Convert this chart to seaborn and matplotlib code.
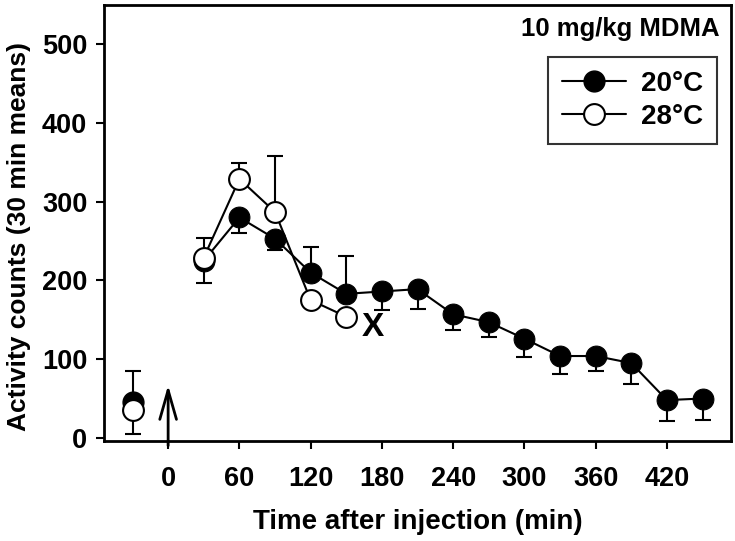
import numpy as np
import pandas as pd
import matplotlib
matplotlib.use("Agg")
import matplotlib.pyplot as plt
import seaborn as sns
from matplotlib.lines import Line2D

# =========================
# DATA
# =========================
time_20 = [-30, 30, 60, 90, 120, 150, 180, 210, 240, 270, 300, 330, 360, 390, 420, 450]
mean_20 = [45, 225, 280, 253, 210, 183, 186, 189, 157, 147, 126, 104, 104, 95, 48, 50]
err_lo_20 = [0, 0, 20, 14, 0, 0, 24, 25, 20, 19, 23, 23, 19, 26, 26, 27]
err_hi_20 = [40, 29, 0, 0, 33, 48, 0, 0, 0, 0, 0, 0, 0, 0, 0, 0]

time_28 = [-30, 30, 60, 90, 120, 150]
mean_28 = [36, 229, 329, 287, 175, 154]
err_lo_28 = [31, 32, 0, 0, 0, 0]
err_hi_28 = [0, 0, 20, 71, 0, 0]

x_ticks = [0, 60, 120, 180, 240, 300, 360, 420]
y_ticks = [0, 100, 200, 300, 400, 500]

df = pd.concat([
    pd.DataFrame({"time": time_20, "counts": mean_20, "temp": "20°C"}),
    pd.DataFrame({"time": time_28, "counts": mean_28, "temp": "28°C"}),
])

# =========================
# STYLE
# =========================
sns.set_style("ticks")
plt.rcParams['font.family'] = ['Liberation Sans', 'DejaVu Sans']
plt.rcParams['font.weight'] = 'bold'
for k in ['text.color', 'axes.labelcolor', 'xtick.color', 'ytick.color', 'axes.edgecolor']:
    plt.rcParams[k] = 'black'

fig = plt.figure(figsize=(7.35, 5.41), dpi=100)
ax = fig.add_axes([0.1415, 0.1848, 0.8531, 0.806])

# =========================
# ERROR BARS
# =========================
ax.errorbar(time_20, mean_20, yerr=[err_lo_20, err_hi_20], fmt='none',
            ecolor='black', elinewidth=1.5, capsize=5.5, capthick=1.5, zorder=2)
ax.errorbar(time_28, mean_28, yerr=[err_lo_28, err_hi_28], fmt='none',
            ecolor='black', elinewidth=1.5, capsize=5.5, capthick=1.5, zorder=2)

# =========================
# LINES
# =========================
d20 = df[df["temp"] == "20°C"]
d28 = df[df["temp"] == "28°C"]

sns.lineplot(data=d20[d20["time"] > 0], x="time", y="counts", ax=ax,
             color='black', lw=1.5, marker='o', markersize=15,
             markerfacecolor='black', markeredgecolor='black', zorder=3)
sns.lineplot(data=d28[d28["time"] > 0], x="time", y="counts", ax=ax,
             color='black', lw=1.5, marker='o', markersize=15,
             markerfacecolor='white', markeredgecolor='black',
             markeredgewidth=1.5, zorder=4)

# pre-injection points
ax.plot(time_20[:1], mean_20[:1], 'o', color='black', markersize=15, zorder=3)
ax.plot(time_28[:1], mean_28[:1], 'o', markerfacecolor='white',
        markeredgecolor='black', markeredgewidth=1.5, markersize=15, zorder=4)

# =========================
# ANNOTATIONS
# =========================
ax.annotate("", xy=(0, 67), xytext=(0, -10),
            arrowprops=dict(arrowstyle='->,head_length=1.4,head_width=0.4',
                            lw=2, color='black', mutation_scale=15,
                            shrinkA=0, shrinkB=0),
            annotation_clip=False)
ax.text(172, 140, "X", fontsize=24, fontweight='bold', ha='center', va='center')
ax.text(0.982, 0.945, "10 mg/kg MDMA", transform=ax.transAxes,
        fontsize=18.5, fontweight='bold', ha='right', va='center')

handles = [
    Line2D([], [], color='black', lw=1.5, marker='o', markersize=15,
           markerfacecolor='black'),
    Line2D([], [], color='black', lw=1.5, marker='o', markersize=15,
           markerfacecolor='white', markeredgewidth=1.5),
]
leg = ax.legend(handles, ["20°C", "28°C"], loc='upper right',
                bbox_to_anchor=(0.978, 0.881), frameon=True, fancybox=False,
                edgecolor='black', fontsize=20, handlelength=2.3,
                borderpad=0.5, labelspacing=0.25, handletextpad=0.55,
                borderaxespad=0)
leg.get_frame().set_linewidth(1.5)
for t in leg.get_texts():
    t.set_fontweight('bold')

# =========================
# AXES
# =========================
ax.set_xlim(-54, 474)
ax.set_ylim(-4, 550)
ax.set_xticks(x_ticks)
ax.set_yticks(y_ticks)
ax.tick_params(direction='out', length=6, width=1.5, labelsize=19.5)
ax.tick_params(axis='x', pad=12)
ax.tick_params(axis='y', pad=6)
for lab in ax.get_xticklabels() + ax.get_yticklabels():
    lab.set_fontweight('bold')
for s in ax.spines.values():
    s.set_visible(True)
    s.set_linewidth(2)
    s.set_color('black')

ax.set_xlabel("Time after injection (min)", fontsize=20, fontweight='bold', labelpad=12)
ax.set_ylabel("Activity counts (30 min means)", fontsize=19, fontweight='bold')
ax.yaxis.set_label_coords(-0.117, 0.47)

plt.savefig("out.png", dpi=100)
